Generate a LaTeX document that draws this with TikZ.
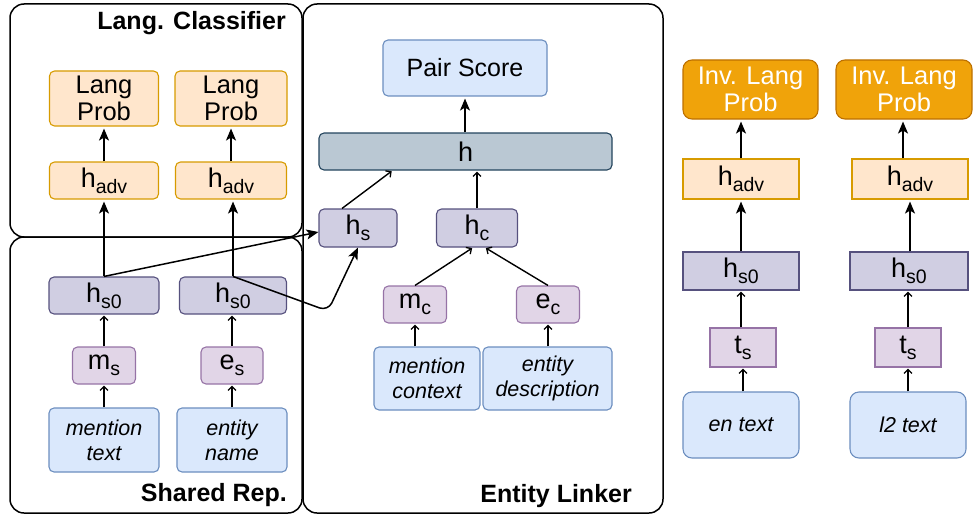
\documentclass[tikz,border=0pt]{standalone}
\usepackage{fontspec}
\setmainfont{Liberation Sans}
\usetikzlibrary{arrows.meta}

\definecolor{bluefill}{HTML}{DAE8FC}\definecolor{bluedraw}{HTML}{6C8EBF}
\definecolor{orfill}{HTML}{FFE6CC}\definecolor{ordraw}{HTML}{D79B00}
\definecolor{lpfill}{HTML}{E1D5E7}\definecolor{lpdraw}{HTML}{9673A6}
\definecolor{dpfill}{HTML}{D0CEE2}\definecolor{dpdraw}{HTML}{56517E}
\definecolor{stfill}{HTML}{BAC8D3}\definecolor{stdraw}{HTML}{23445D}
\definecolor{invfill}{HTML}{F0A30A}\definecolor{invdraw}{HTML}{BD7000}

% lowered, smaller subscript text
\newcommand\lowsub[1]{\raisebox{-6pt}{\fontsize{19.5}{19.5}\selectfont #1}}

\tikzset{
  box/.style={draw, line width=1.1pt, rounded corners=5pt, align=center,
    inner sep=0pt, font=\fontsize{25.5}{27.5}\selectfont},
  sym/.style={font=\fontsize{27}{30}\selectfont},
  sq/.style={sharp corners},
  bluebox/.style={box, fill=bluefill, draw=bluedraw},
  itbox/.style={bluebox, font=\fontsize{21.5}{25}\selectfont\itshape},
  orbox/.style={box, fill=orfill, draw=ordraw},
  lpbox/.style={box, sym, fill=lpfill, draw=lpdraw},
  dpbox/.style={box, sym, fill=dpfill, draw=dpdraw},
  stbox/.style={box, sym, fill=stfill, draw=stdraw},
  invbox/.style={box, fill=invfill, draw=invdraw, text=white, rounded corners=9pt},
  container/.style={draw=black, line width=1.5pt, rounded corners=14pt, inner sep=0pt},
  title/.style={font=\fontsize{25}{28}\selectfont\bfseries, inner sep=0pt},
  fa/.style={-{Stealth[length=12pt,width=10pt,inset=3pt]}, line width=1.5pt, shorten >=2pt},
  oa/.style={-{Straight Barb[length=4pt,width=8pt,line width=1.3pt]}, line width=1.4pt, shorten >=1pt},
}

\begin{document}
\begin{tikzpicture}[x=1pt,y=-1pt]
\useasboundingbox (0,0) rectangle (973,516);

% group frames
\node[container, minimum width=292pt, minimum height=233pt] (lcbox) at (156,120.5) {};
\node[container, minimum width=292pt, minimum height=276pt] (srbox) at (156,375) {};
\node[container, minimum width=360pt, minimum height=509pt] (elbox) at (483,258.5) {};
\node[title, anchor=east] (lctitle) at (286,23) {Lang. Classifier};
\node[title, anchor=east] (srtitle) at (287,495) {Shared Rep.};
\node[title, anchor=east] (eltitle) at (632,496) {Entity Linker};

% language classifier
\node[orbox, minimum width=109pt, minimum height=55pt] (lp1) at (104,98.5) {Lang\\Prob};
\node[orbox, minimum width=112pt, minimum height=55pt] (lp2) at (231,98.5) {Lang\\Prob};
\node[orbox, sym, minimum width=109pt, minimum height=37pt] (ha1) at (104,180.5) {h\lowsub{adv}};
\node[orbox, sym, minimum width=111pt, minimum height=37pt] (ha2) at (231,180.5) {h\lowsub{adv}};

% shared representation
\node[dpbox, minimum width=110pt, minimum height=37pt] (hs0a) at (104,295.5) {h\lowsub{s0}};
\node[dpbox, minimum width=107pt, minimum height=37pt] (hs0b) at (233,295.5) {h\lowsub{s0}};
\node[lpbox, minimum width=63pt, minimum height=37pt] (ms) at (104,365.5) {m\lowsub{s}};
\node[lpbox, minimum width=62pt, minimum height=37pt] (es) at (232,365.5) {e\lowsub{s}};
\node[itbox, minimum width=110pt, minimum height=64pt] (mt) at (104,440) {mention\\text};
\node[itbox, minimum width=110pt, minimum height=64pt] (en) at (232,440) {entity\\name};

% entity linker
\node[bluebox, minimum width=164pt, minimum height=56pt, font=\fontsize{25}{28}\selectfont] (ps) at (465,68) {Pair Score};
\node[stbox, minimum width=293pt, minimum height=37pt] (h) at (465.5,151.5) {h};
\node[dpbox, minimum width=78pt, minimum height=38pt] (hs) at (358,228) {h\lowsub{s}};
\node[dpbox, minimum width=81pt, minimum height=38pt] (hc) at (477,228) {h\lowsub{c}};
\node[lpbox, minimum width=63pt, minimum height=37pt] (mc) at (415,304.5) {m\lowsub{c}};
\node[lpbox, minimum width=63pt, minimum height=37pt] (ec) at (548,304.5) {e\lowsub{c}};
\node[itbox, minimum width=106pt, minimum height=63pt] (mctx) at (427,378.5) {mention\\context};
\node[itbox, minimum width=129pt, minimum height=63pt] (edesc) at (547.5,378.5) {entity\\description};

% adversarial columns
\node[invbox, minimum width=135pt, minimum height=59pt] (inv1) at (750.5,89.5) {Inv. Lang\\Prob};
\node[invbox, minimum width=136pt, minimum height=59pt] (inv2) at (904,89.5) {Inv. Lang\\Prob};
\node[orbox, sym, sq, minimum width=116pt, minimum height=40pt] (rha1) at (741,179) {h\lowsub{adv}};
\node[orbox, sym, sq, minimum width=116pt, minimum height=40pt] (rha2) at (910,179) {h\lowsub{adv}};
\node[dpbox, sq, minimum width=116pt, minimum height=38pt] (rhs1) at (741,271) {h\lowsub{s0}};
\node[dpbox, sq, minimum width=118pt, minimum height=38pt] (rhs2) at (909,271) {h\lowsub{s0}};
\node[lpbox, sq, minimum width=66pt, minimum height=39pt] (ts1) at (743,347.5) {t\lowsub{s}};
\node[lpbox, sq, minimum width=66pt, minimum height=39pt] (ts2) at (908,347.5) {t\lowsub{s}};
\node[itbox, rounded corners=9pt, minimum width=116pt, minimum height=66pt] (ent) at (741,425) {en text};
\node[itbox, rounded corners=9pt, minimum width=116pt, minimum height=66pt] (l2t) at (908,425) {l2 text};

% classifier arrows
\draw[fa] (ha1) -- (ha1.north |- lp1.south);
\draw[fa] (ha2) -- (ha2.north |- lp2.south);
\draw[fa] (hs0a.north) -- (hs0a.north |- ha1.south);
\draw[fa] (hs0b.north) -- (hs0b.north |- ha2.south);

% shared representation into linker
\draw[fa, shorten >=0pt] (hs0a.north) -- ([yshift=-4pt]hs.west);
\coordinate (bend) at (328,311);
\draw[fa, shorten >=0pt, rounded corners=9pt] (hs0b.north) -- (bend) -- (hs.south);

\draw[oa] (ms) -- (ms.north |- hs0a.south);
\draw[oa] (mt) -- (ms);
\draw[oa] (es) -- (es.north |- hs0b.south);
\draw[oa] (en) -- (es);

% linker arrows
\draw[fa] (h.north -| ps.south) -- (ps.south);
\draw[oa] ([xshift=-16pt]hs.north) -- ([xshift=-73pt]h.south);
\draw[oa] (hc.north) -- (hc.north |- h.south);
\draw[oa] (mc.north) -- ([xshift=-4pt]hc.south);
\draw[oa] (ec.north) -- ([xshift=8pt]hc.south);
\draw[oa] (mc.south |- mctx.north) -- (mc.south);
\draw[oa] (edesc.north -| ec.south) -- (ec.south);

% adversarial arrows
\draw[fa] (rha1.north) -- (rha1.north |- inv1.south);
\draw[fa] ([xshift=-7pt]rha2.north) -- ([xshift=-7pt]rha2.north |- inv2.south);
\draw[fa] (rhs1.north) -- (rha1.south);
\draw[fa] (rha2.south |- rhs2.north) -- (rha2.south);
\draw[oa] (ts1.north -| rhs1.south) -- (rhs1.south);
\draw[oa] (ts2.north) -- (ts2.north |- rhs2.south);
\draw[oa] (ent.north -| ts1.south) -- (ts1.south);
\draw[oa] (l2t.north) -- (ts2.south);
\end{tikzpicture}
\end{document}
